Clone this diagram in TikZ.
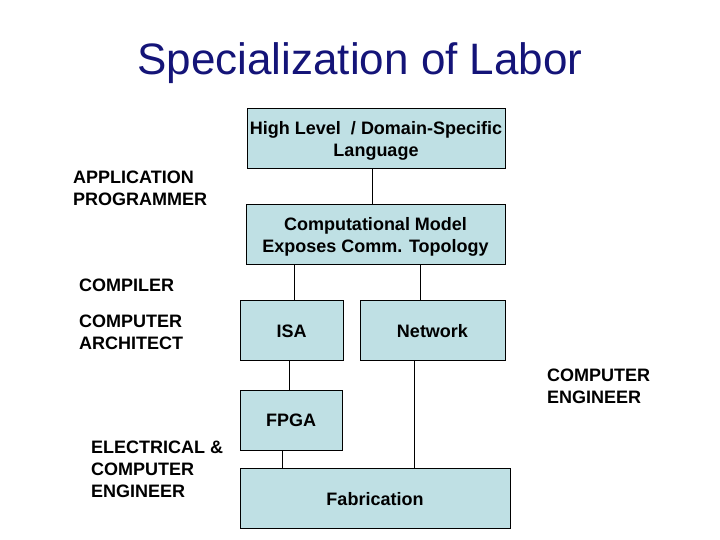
\documentclass[tikz,border=0pt]{standalone}
\usepackage{fontspec}
\setmainfont{Liberation Sans}
\definecolor{boxfill}{RGB}{191,224,228}
\definecolor{titleblue}{RGB}{20,20,120}
\begin{document}
\begin{tikzpicture}[x=1pt,y=-1pt,
  blk/.style={draw=black,line width=0.9pt,fill=boxfill,align=center,inner sep=0pt,
    font=\fontsize{18}{22}\selectfont\bfseries},
  twoline/.style={text height=37.5pt,text depth=0pt},
  oneline/.style={text height=15pt,text depth=0pt},
  role/.style={align=left,inner sep=0pt,anchor=north west,
    font=\fontsize{18}{22}\selectfont\bfseries},
  wire/.style={draw=black,line width=0.8pt}]
\useasboundingbox (0,0) rectangle (720,540);
\node[anchor=base,font=\fontsize{44}{50}\selectfont,text=titleblue,inner sep=0pt] (title) at (360,75) {Specialization of Labor};

\node[blk,twoline,minimum width=258,minimum height=60] (hl) at (376,138) {High Level\ \ / Domain-Specific\\Language};
\node[blk,twoline,minimum width=259,minimum height=60] (cm) at (375.5,234) {Computational Model\\Exposes Comm. Topology};
\node[blk,oneline,minimum width=103,minimum height=60] (isa) at (291.5,330) {ISA};
\node[blk,oneline,minimum width=145,minimum height=60] (net) at (432.5,330) {Network};
\node[blk,minimum width=102,minimum height=60] (fpga) at (291,420) {FPGA};
\node[blk,oneline,minimum width=270,minimum height=60] (fab) at (375,498) {Fabrication};

\draw[wire] ([xshift=-4]hl.south) -- ([xshift=-3.5]cm.north);
\draw[wire] ([xshift=-81.5]cm.south) -- ([xshift=2.5]isa.north);
\draw[wire] ([xshift=44.5]cm.south) -- ([xshift=-12.5]net.north);
\draw[wire] ([xshift=-2.5]isa.south) -- ([xshift=-2]fpga.north);
\draw[wire] ([xshift=-9]fpga.south) -- ([xshift=-93]fab.north);
\draw[wire] ([xshift=-18.5]net.south) -- ([xshift=39]fab.north);

\node[role] (app) at (73,171) {APPLICATION\\PROGRAMMER};
\node[role] (comp) at (79,279) {COMPILER};
\node[role] (arch) at (79,315) {COMPUTER\\ARCHITECT};
\node[role] (ce) at (547,369) {COMPUTER\\ENGINEER};
\node[role] (ece) at (91,441) {ELECTRICAL \&\\COMPUTER\\ENGINEER};
\end{tikzpicture}
\end{document}
